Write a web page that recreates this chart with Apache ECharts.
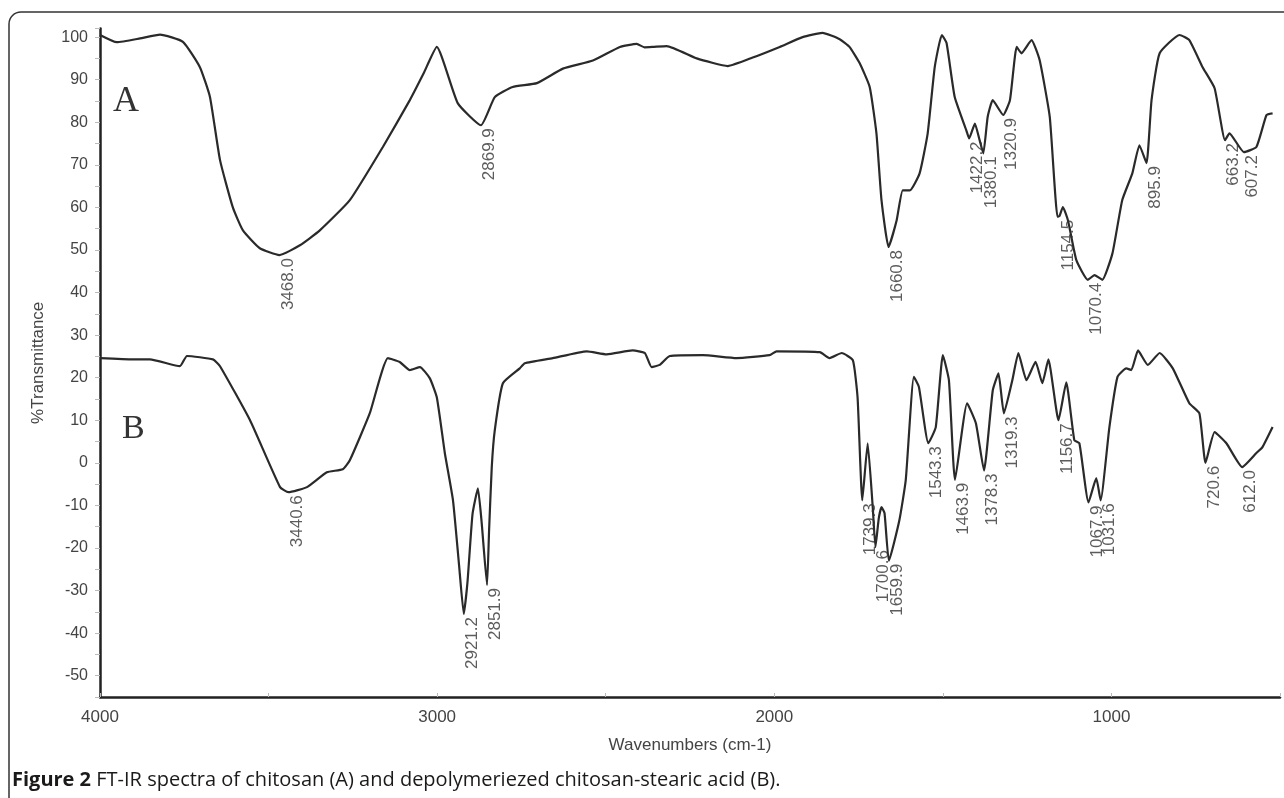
<!DOCTYPE html>
<html>
<head>
<meta charset="utf-8">
<script src="https://cdn.jsdelivr.net/npm/echarts@6/dist/echarts.min.js"></script>
<style>
html,body{margin:0;padding:0;background:#fff;}
#chart{width:1284px;height:798px;}
</style>
</head>
<body>
<div id="chart"></div>
<script>
// Wavenumber (cm-1), %Transmittance — chitosan (A)
const spectrumA = [
[4000,100.5],[3950,98.8],[3881,99.7],[3822,100.6],[3754,98.9],[3704,93],[3674,86],[3644,71.1],[3606,60],[3576,54.6],[3526,50.4],[3468,48.8],[3407,51.1],[3348,54.6],[3259,61.7],[3161,74.2],[3081,85.2],[3040,91.5],[3001,97.7],[2939,84.5],[2870,79.3],[2829,85.9],[2776,88.3],[2704,89.2],[2627,92.6],[2538,94.5],[2458,97.7],[2408,98.4],[2385,97.6],[2360,97.7],[2319,97.9],[2230,95],[2138,93.2],[2064,95.2],[1984,97.7],[1916,100],[1857,101],[1806,99.5],[1777,97.7],[1747,93.9],[1717,88.3],[1697,77.4],[1682,61.7],[1661,50.7],[1637,57],[1619,64],[1598,64],[1569,68],[1545,77.4],[1524,93],[1503,100.5],[1489,98.6],[1465,86],[1430,78],[1422,76.2],[1405,79.7],[1391,75.8],[1380,72.7],[1367,81.3],[1352,85.2],[1321,81.7],[1301,85.2],[1281,97.7],[1267,96.2],[1237,99.3],[1213,94.6],[1183,81.3],[1160,57.8],[1154,58],[1144,60.1],[1129,57],[1104,47.6],[1070,43],[1050,44.1],[1027,43],[997,49.2],[968,61.7],[938,68],[917,74.6],[896,70.4],[881,85.2],[857,96.2],[798,100.5],[769,99.3],[730,93],[694,88],[663,75.8],[650,77.4],[607,73],[570,74.2],[540,81.7],[522,82.1]
];
// depolymerized chitosan-stearic acid (B)
const spectrumB = [
[4000,24.6],[3902,24.3],[3852,24.3],[3763,22.7],[3742,25.1],[3665,24.3],[3644,22.7],[3555,10],[3466,-5.7],[3441,-6.9],[3386,-5.7],[3327,-2.2],[3280,-1.5],[3259,0.6],[3200,11.6],[3146,24.6],[3111,23.7],[3081,21.8],[3051,22.5],[3022,19.9],[3001,15.4],[2977,2.2],[2953,-8.8],[2935,-24],[2921,-35.5],[2910,-28],[2895,-12],[2879,-6],[2868,-14],[2852,-28.7],[2846,-16],[2838,-1],[2829,7.7],[2805,18.7],[2755,22.2],[2740,23.4],[2657,24.6],[2556,26.2],[2497,25.5],[2420,26.4],[2384,25.8],[2364,22.5],[2340,23],[2310,25.1],[2212,25.3],[2112,24.6],[2014,25.3],[1993,26.2],[1865,26],[1836,24.6],[1800,25.8],[1767,24.1],[1753,15.4],[1739,-8.8],[1723,4.6],[1708,-10.4],[1700,-19.8],[1690,-13],[1682,-10.4],[1673,-11.8],[1660,-23],[1629,-13.5],[1610,-4],[1586,20.2],[1571,17.8],[1543,4.6],[1521,8.4],[1500,25.3],[1482,19.4],[1464,-4],[1428,14],[1402,9.3],[1378,-1.8],[1352,17],[1335,21],[1319,11.6],[1294,19.4],[1276,25.8],[1252,19.4],[1225,23.7],[1205,18.7],[1187,24.3],[1157,10],[1134,18.9],[1110,5.3],[1095,4.6],[1068,-9.3],[1045,-3.6],[1032,-8.8],[1006,8.4],[982,20.2],[956,22.2],[941,21.8],[921,26.4],[892,23],[857,25.8],[818,22.2],[769,14],[739,11.6],[721,0],[694,7.2],[659,4.6],[612,-1],[570,2.3],[552,3.7],[522,8.4]
];
// Annotated peaks [wavenumber, %T at the peak]
const peaksA = [[3468.0,48.8],[2869.9,79.3],[1660.8,50.7],[1422.2,76.2],[1380.1,72.7],[1320.9,81.7],[1154.5,57.8],[1070.4,43],[895.9,70.4],[663.2,75.8],[607.2,73]];
const peaksB = [[3440.6,-6.9],[2921.2,-35.5],[2851.9,-28.7],[1739.3,-8.8],[1700.6,-19.8],[1659.9,-23],[1543.3,4.6],[1463.9,-4],[1378.3,-1.8],[1319.3,11.6],[1156.7,10],[1067.9,-9.3],[1031.6,-8.8],[720.6,0],[612.0,-1]];
const xTicks = [1000,2000,3000,4000];
const yTicks = [-50,-40,-30,-20,-10,0,10,20,30,40,50,60,70,80,90,100];

const chart = echarts.init(document.getElementById('chart'));
const FONT = 'Liberation Sans, Arial, sans-serif';
const peakLabel = {
  show: true, position: 'bottom', distance: 3, rotate: 90,
  align: 'right', verticalAlign: 'top',
  fontFamily: FONT, fontSize: 17, color: '#333',
  formatter: p => p.value[0].toFixed(1)
};
chart.setOption({
  animation: false,
  backgroundColor: '#fff',
  grid: {left: 100, right: 4, top: 28.6, bottom: 101},
  xAxis: {
    type: 'value', inverse: true, min: 500, max: 4000, interval: 500,
    name: 'Wavenumbers (cm-1)', nameLocation: 'middle', nameGap: 40,
    nameTextStyle: {fontFamily: FONT, fontSize: 17, color: '#444'},
    axisLine: {onZero: false, lineStyle: {color: '#222', width: 2.5}},
    axisTick: {show: true, inside: true, length: 4, lineStyle: {color: '#bbb'}},
    axisLabel: {margin: 12, fontFamily: FONT, fontSize: 17, color: '#444',
      formatter: v => xTicks.includes(v) ? String(v) : ''},
    splitLine: {show: false}
  },
  yAxis: {
    type: 'value', min: -55, max: 102, interval: 5,
    name: '%Transmittance', nameLocation: 'middle', nameGap: 53,
    nameTextStyle: {fontFamily: FONT, fontSize: 17, color: '#444'},
    axisLine: {show: true, onZero: false, lineStyle: {color: '#222', width: 2.5}},
    axisTick: {show: true, length: 5, lineStyle: {color: '#bbb'}},
    axisLabel: {margin: 12, fontFamily: FONT, fontSize: 16, color: '#444',
      formatter: v => yTicks.includes(v) ? String(v) : ''},
    splitLine: {show: false}
  },
  series: [
    {type: 'line', data: spectrumA, showSymbol: false, symbol: 'none',
     smooth: 0.15,
     lineStyle: {color: '#2a2a2a', width: 2.2}},
    {type: 'line', data: spectrumB, showSymbol: false, symbol: 'none',
     smooth: 0.15,
     lineStyle: {color: '#2a2a2a', width: 2.2}},
    {type: 'scatter', data: peaksA, symbolSize: 0, label: peakLabel, z: 5},
    {type: 'scatter', data: peaksB, symbolSize: 0, label: peakLabel, z: 5}
  ],
  graphic: [
    {type: 'rect', shape: {x: 9, y: 12, width: 1400, height: 900, r: 12},
     style: {fill: 'none', stroke: '#333', lineWidth: 1.5}, silent: true},
    {type: 'text', left: 113, top: 84,
     style: {text: 'A', font: '36px "Liberation Serif", serif', fill: '#333'}},
    {type: 'text', left: 122, top: 412,
     style: {text: 'B', font: '34px "Liberation Serif", serif', fill: '#333'}},
    {type: 'text', left: 12, top: 770,
     style: {text: '{b|Figure 2} FT-IR spectra of chitosan (A) and depolymeriezed chitosan-stearic acid (B).',
       font: '20px "Open Sans", sans-serif', fill: '#1a1a1a',
       rich: {b: {fontWeight: 'bold', fontFamily: 'Open Sans', fontSize: 20, fill: '#1a1a1a'}}}}
  ]
});
</script>
</body>
</html>
